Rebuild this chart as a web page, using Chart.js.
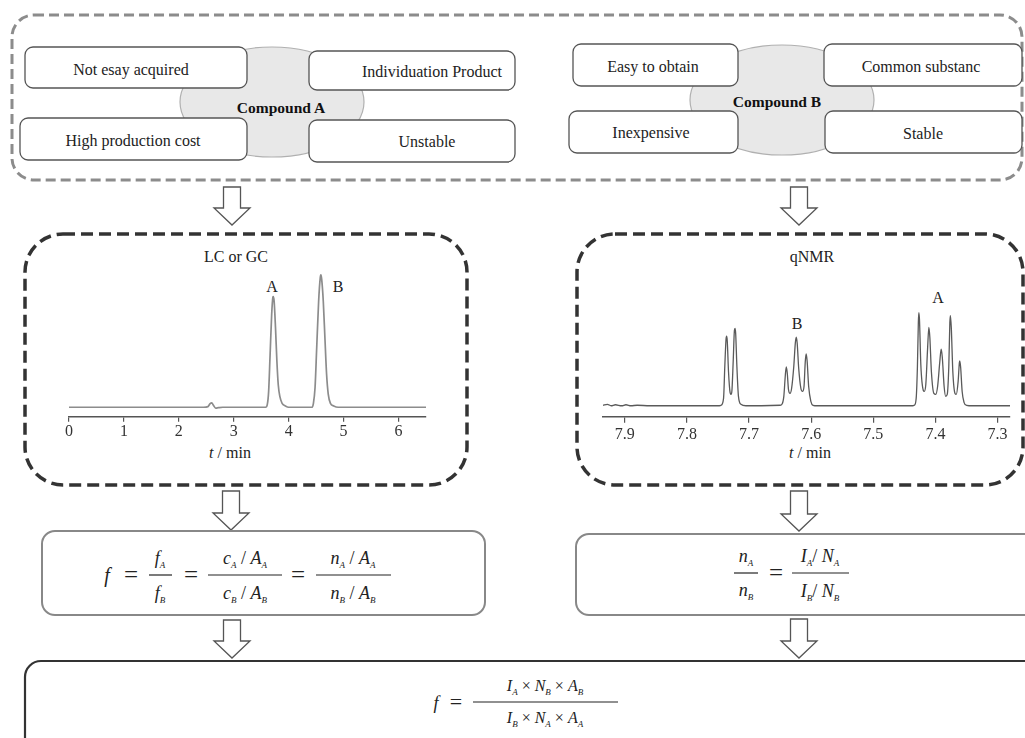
<!DOCTYPE html>
<html>
<head>
<meta charset="utf-8">
<script src="https://cdn.jsdelivr.net/npm/chart.js@4"></script>
<style>
  html,body{margin:0;padding:0;background:#fff;}
  body{width:1025px;height:738px;position:relative;overflow:hidden;font-family:"Liberation Serif","Times New Roman",serif;}
  #diagram{position:absolute;left:0;top:0;font-family:"Liberation Serif","Times New Roman",serif;}
  .cw{position:absolute;}
</style>
</head>
<body>
<script>
// ---- chromatogram (LC or GC) ----
const lcTicks = [0, 1, 2, 3, 4, 5, 6];
const lcTime = [0, 2.45, 2.53, 2.57, 2.60, 2.63, 2.67, 2.72, 2.8,
  3.58, 3.61, 3.635, 3.66, 3.69, 3.712, 3.72, 3.735, 3.76, 3.785, 3.81, 3.84, 3.88, 3.94, 4.0,
  4.42, 4.45, 4.48, 4.51, 4.545, 4.575, 4.587, 4.60, 4.63, 4.66, 4.69, 4.72, 4.76, 4.82, 4.9, 6.5];
const lcSignal = [0, 0, 0.5, 2.8, 3.3, 1.5, -0.6, -0.3, 0,
  0, 2, 12, 38, 70, 83, 83.6, 80, 60, 35, 17, 8, 3, 1, 0,
  0, 3, 15, 45, 80, 98, 100, 97, 80, 52, 25, 10, 3, 1, 0, 0];

// ---- qNMR spectrum ----
const nmrTicks = [7.9, 7.8, 7.7, 7.6, 7.5, 7.4, 7.3];
const nmrShift = [7.935, 7.928, 7.922, 7.915, 7.905, 7.898, 7.89, 7.88, 7.86, 7.80, 7.75,
  7.745, 7.741, 7.739, 7.737, 7.736, 7.735, 7.733, 7.7305, 7.729, 7.7275, 7.7255, 7.7235, 7.7225, 7.7215, 7.7195, 7.717, 7.713, 7.705,
  7.68, 7.65, 7.647, 7.644, 7.6415, 7.640, 7.6385, 7.6365, 7.634, 7.6315, 7.628, 7.6255, 7.624, 7.6225, 7.620, 7.6165, 7.614, 7.6115, 7.6095, 7.608, 7.6065, 7.604, 7.6005, 7.597, 7.59,
  7.50, 7.44, 7.434, 7.431, 7.429, 7.4275, 7.4267, 7.4257, 7.4235, 7.4195, 7.418, 7.4155, 7.4125, 7.4106, 7.409, 7.4065, 7.4025, 7.3995, 7.3965, 7.393, 7.3908, 7.389, 7.386, 7.3835, 7.381, 7.3785, 7.3768, 7.3759, 7.3745, 7.372, 7.3685, 7.3665, 7.3635, 7.3615, 7.3608, 7.3595, 7.357, 7.354, 7.350, 7.34, 7.30, 7.28];
const nmrSignal = [1, 2, 0.5, 1.5, 0.5, 1.5, 0.5, 1, 0.5, 0.5, 0.5,
  1, 8, 40, 68, 71, 66, 35, 14, 12, 16, 45, 77, 79, 74, 40, 10, 2, 0.5,
  0.5, 1, 2, 10, 32, 40, 34, 17, 13, 18, 40, 64, 70, 64, 38, 18, 15, 20, 45, 53, 46, 20, 5, 1, 0.5,
  0.5, 0.5, 1, 8, 40, 85, 95, 88, 42, 16, 15, 22, 60, 80, 70, 35, 13, 12, 20, 45, 58, 50, 20, 10, 12, 40, 85, 92, 80, 35, 13, 12, 25, 44, 46, 40, 15, 4, 1, 0.5, 0.5, 0.5];

const SERIF = "'Liberation Serif', 'Times New Roman', serif";

// ---------- diagram (SVG) ----------
function arrow(cx, y0, y1){
  const sw = 8.5, hw = 18, hl = 17;
  return `<path d="M${cx-sw},${y0} L${cx+sw},${y0} L${cx+sw},${y1-hl} L${cx+hw},${y1-hl} L${cx},${y1} L${cx-hw},${y1-hl} L${cx-sw},${y1-hl} Z" fill="#fff" stroke="#555" stroke-width="1.3" stroke-linejoin="miter"/>`;
}
function box(x, y, w, h, label, tx, ty){
  return `<rect x="${x}" y="${y}" width="${w}" height="${h}" rx="8" fill="#fff" stroke="#555" stroke-width="1.3"/>` +
         `<text x="${tx}" y="${ty}" text-anchor="middle" dominant-baseline="central" font-size="16" fill="#222">${label}</text>`;
}
const S = (m, s) => `<tspan font-style="italic">${m}</tspan><tspan font-size="9" font-style="italic" dy="4">${s}</tspan><tspan dy="-4">`;
const E = `</tspan>`;
const EQ = (x, y) => `<text x="${x}" y="${y}" text-anchor="middle" font-size="25">=</text>`;

let svg = `<svg id="diagram" width="1025" height="738" xmlns="http://www.w3.org/2000/svg">`;
// top gray dashed container
svg += `<rect x="12" y="15" width="1010" height="165" rx="22" fill="none" stroke="#8c8c8c" stroke-width="3" stroke-dasharray="10 5"/>`;
// ellipses
svg += `<ellipse cx="272" cy="102" rx="92" ry="55" fill="#e8e8e8" stroke="#b0b0b0" stroke-width="1.2"/>`;
svg += `<ellipse cx="782" cy="100" rx="92" ry="55" fill="#e8e8e8" stroke="#b0b0b0" stroke-width="1.2"/>`;
// compound A boxes
svg += box(25, 47, 222, 41, "Not esay acquired", 131, 69);
svg += box(309, 51, 206, 39, "Individuation Product", 432, 71);
svg += box(20, 118, 227, 42, "High production cost", 133, 140);
svg += box(309, 120, 206, 42, "Unstable", 427, 141);
svg += `<text x="281" y="107" text-anchor="middle" dominant-baseline="central" font-size="15.5" font-weight="bold" fill="#111">Compound A</text>`;
// compound B boxes
svg += box(573, 44, 165, 42, "Easy to obtain", 653, 66);
svg += box(824, 44, 198, 42, "Common substanc", 921, 66);
svg += box(569, 111, 169, 42, "Inexpensive", 651, 132);
svg += box(825, 111, 197, 42, "Stable", 923, 133);
svg += `<text x="777" y="101" text-anchor="middle" dominant-baseline="central" font-size="15.5" font-weight="bold" fill="#111">Compound B</text>`;
// arrows
svg += arrow(232, 187, 225);
svg += arrow(799, 187, 225);
svg += arrow(231, 491, 530);
svg += arrow(799, 491, 531);
svg += arrow(232, 620, 658);
svg += arrow(799, 619, 658);
// dark dashed chart boxes
svg += `<rect x="25" y="234" width="442" height="251" rx="38" fill="none" stroke="#333" stroke-width="3.5" stroke-dasharray="12 6"/>`;
svg += `<rect x="577" y="234" width="446" height="251" rx="38" fill="none" stroke="#333" stroke-width="3.5" stroke-dasharray="12 6"/>`;
// chart labels
svg += `<text x="236" y="256" text-anchor="middle" dominant-baseline="central" font-size="16" fill="#222">LC or GC</text>`;
svg += `<text x="272" y="286" text-anchor="middle" dominant-baseline="central" font-size="16" fill="#222">A</text>`;
svg += `<text x="338" y="286" text-anchor="middle" dominant-baseline="central" font-size="16" fill="#222">B</text>`;
svg += `<text x="230" y="452" text-anchor="middle" dominant-baseline="central" font-size="16" fill="#222"><tspan font-style="italic">t</tspan> / min</text>`;
svg += `<text x="812" y="256" text-anchor="middle" dominant-baseline="central" font-size="16" fill="#222">qNMR</text>`;
svg += `<text x="797" y="323" text-anchor="middle" dominant-baseline="central" font-size="16" fill="#222">B</text>`;
svg += `<text x="938" y="297" text-anchor="middle" dominant-baseline="central" font-size="16" fill="#222">A</text>`;
svg += `<text x="810" y="452" text-anchor="middle" dominant-baseline="central" font-size="16" fill="#222"><tspan font-style="italic">t</tspan> / min</text>`;
// formula boxes
svg += `<rect x="42" y="531" width="443" height="84" rx="13" fill="none" stroke="#888" stroke-width="2"/>`;
svg += `<rect x="576" y="534" width="470" height="81" rx="13" fill="none" stroke="#888" stroke-width="2"/>`;
svg += `<rect x="25" y="661" width="1030" height="110" rx="16" fill="none" stroke="#333" stroke-width="2.2"/>`;

// left formula
svg += `<g font-size="18" fill="#222">`;
svg += `<text x="107" y="582" text-anchor="middle" font-style="italic" font-size="20">f</text>`;
svg += EQ(131, 583);
svg += `<text x="160" y="564" text-anchor="middle">${S('f','A')}${E}</text>`;
svg += `<text x="160" y="599" text-anchor="middle">${S('f','B')}${E}</text>`;
svg += `<line x1="149" y1="575" x2="172" y2="575" stroke="#222" stroke-width="1.2"/>`;
svg += EQ(191, 583);
svg += `<text x="245" y="564" text-anchor="middle">${S('c','A')} / ${E}${S('A','A')}${E}</text>`;
svg += `<text x="245" y="599" text-anchor="middle">${S('c','B')} / ${E}${S('A','B')}${E}</text>`;
svg += `<line x1="208" y1="575" x2="282" y2="575" stroke="#222" stroke-width="1.2"/>`;
svg += EQ(298, 583);
svg += `<text x="353" y="564" text-anchor="middle">${S('n','A')} / ${E}${S('A','A')}${E}</text>`;
svg += `<text x="353" y="599" text-anchor="middle">${S('n','B')} / ${E}${S('A','B')}${E}</text>`;
svg += `<line x1="316" y1="575" x2="391" y2="575" stroke="#222" stroke-width="1.2"/>`;
// right formula
svg += `<text x="746" y="562" text-anchor="middle">${S('n','A')}${E}</text>`;
svg += `<text x="746" y="596" text-anchor="middle">${S('n','B')}${E}</text>`;
svg += `<line x1="734" y1="573" x2="758" y2="573" stroke="#222" stroke-width="1.2"/>`;
svg += EQ(776, 581);
svg += `<text x="820" y="562" text-anchor="middle">${S('I','A')}/ ${E}${S('N','A')}${E}</text>`;
svg += `<text x="820" y="597" text-anchor="middle">${S('I','B')}/ ${E}${S('N','B')}${E}</text>`;
svg += `<line x1="792" y1="573" x2="849" y2="573" stroke="#222" stroke-width="1.2"/>`;
svg += `</g>`;
// bottom formula
svg += `<g font-size="16" fill="#222">`;
svg += `<text x="436" y="709" text-anchor="middle" font-style="italic" font-size="18">f</text>`;
svg += `<text x="456" y="709" text-anchor="middle" font-size="22">=</text>`;
svg += `<text x="545" y="691" text-anchor="middle">${S('I','A')} × ${E}${S('N','B')} × ${E}${S('A','B')}${E}</text>`;
svg += `<text x="545" y="723" text-anchor="middle">${S('I','B')} × ${E}${S('N','A')} × ${E}${S('A','A')}${E}</text>`;
svg += `<line x1="473" y1="702" x2="618" y2="702" stroke="#222" stroke-width="1.2"/>`;
svg += `</g>`;
svg += `</svg>`;
document.body.insertAdjacentHTML('beforeend', svg);

// ---------- charts ----------
function makeCanvas(id, left, top, w, h){
  const d = document.createElement('div');
  d.className = 'cw';
  d.style.left = left + 'px'; d.style.top = top + 'px';
  d.style.width = w + 'px'; d.style.height = h + 'px';
  const c = document.createElement('canvas');
  c.id = id;
  d.appendChild(c);
  document.body.appendChild(d);
  return c;
}

const lcCanvas = makeCanvas('lc', 49, 252, 397, 190);
new Chart(lcCanvas, {
  type: 'line',
  data: { datasets: [{
    data: lcTime.map((t, i) => ({ x: t, y: lcSignal[i] })),
    borderColor: '#8c8c8c', borderWidth: 1.7, pointRadius: 0,
    cubicInterpolationMode: 'monotone', fill: false
  }]},
  options: {
    responsive: true, maintainAspectRatio: false, animation: false,
    layout: { padding: { left: 20, right: 20, top: 10, bottom: 1 } },
    plugins: { legend: { display: false }, tooltip: { enabled: false } },
    scales: {
      x: {
        type: 'linear', min: 0, max: 6.5,
        afterBuildTicks: s => { s.ticks = lcTicks.map(v => ({ value: v })); },
        ticks: { font: { family: SERIF, size: 16 }, color: '#333', padding: 0, maxRotation: 0, autoSkip: false, callback: v => String(v) },
        grid: { drawOnChartArea: false, drawTicks: true, tickLength: 5, color: '#555', lineWidth: 1.2 },
        border: { display: true, color: '#555', width: 1.5 }
      },
      y: { display: false, min: -7.2, max: 109.8 }
    }
  }
});

const nmrCanvas = makeCanvas('nmr', 583, 252, 432, 195);
new Chart(nmrCanvas, {
  type: 'line',
  data: { datasets: [{
    data: nmrShift.map((p, i) => ({ x: p, y: nmrSignal[i] })),
    borderColor: '#5a5a5a', borderWidth: 1.3, pointRadius: 0,
    cubicInterpolationMode: 'monotone', fill: false
  }]},
  options: {
    responsive: true, maintainAspectRatio: false, animation: false,
    layout: { padding: { left: 20, right: 5, top: 10, bottom: 1 } },
    plugins: { legend: { display: false }, tooltip: { enabled: false } },
    scales: {
      x: {
        type: 'linear', min: 7.28, max: 7.935, reverse: true,
        afterBuildTicks: s => { s.ticks = nmrTicks.map(v => ({ value: v })); },
        ticks: { font: { family: SERIF, size: 16 }, color: '#333', padding: 2, maxRotation: 0, autoSkip: false, callback: v => Number(v).toFixed(1) },
        grid: { drawOnChartArea: false, drawTicks: true, tickLength: 6, color: '#555', lineWidth: 1.2 },
        border: { display: true, color: '#555', width: 1.5 }
      },
      y: { display: false, min: -10.7, max: 146.3 }
    }
  }
});
</script>
</body>
</html>
